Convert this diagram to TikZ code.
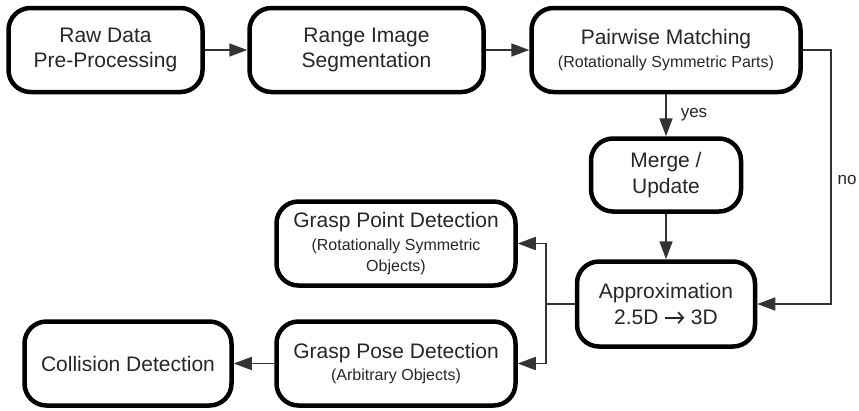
\documentclass[tikz,border=0pt]{standalone}
\usepackage{fontspec}
\setmainfont{Liberation Sans}
\usetikzlibrary{arrows.meta}
\newcommand\subtxt[1]{{\fontsize{16}{20}\selectfont #1}}
\newcommand\myarrow{\tikz[baseline=-7pt]\draw[line width=1.7pt, black!85, -{Straight Barb[length=5pt,width=11pt,line width=1.7pt]}] (0,0) -- (19pt,0);}
\tikzset{
  box/.style={draw=black, line width=4.5pt, rounded corners=22pt, align=center,
    text=black!85, inner sep=0pt, font=\fontsize{21}{25.5}\selectfont},
  conn/.style={draw=black!80, line width=1.7pt, -{Triangle[length=18pt,width=13pt]}},
  lbl/.style={text=black!85, font=\fontsize{17}{20}\selectfont, inner sep=0pt}
}
\begin{document}
\begin{tikzpicture}[x=1pt,y=-1pt]
\useasboundingbox (0,0) rectangle (859,410);
\node[box, minimum width=194pt, minimum height=84pt] (raw) at (105.5,50) {Raw Data\\Pre-Processing};
\node[box, minimum width=234pt, minimum height=84pt] (seg) at (366.5,50) {Range Image\\Segmentation};
\node[box, minimum width=269pt, minimum height=84pt] (pair) at (666,50) {Pairwise Matching\\[-2pt]\subtxt{(Rotationally Symmetric Parts)}};
\node[box, minimum width=150pt, minimum height=73pt] (merge) at (666,175) {Merge /\\Update};
\node[box, minimum width=178pt, minimum height=85pt] (approx) at (666,304) {Approximation\\[1pt]2.5D \myarrow\ 3D};
\node[box, minimum width=239pt, minimum height=84pt] (gpoint) at (396,243.5) {Grasp Point Detection\\[-2pt]\subtxt{(Rotationally Symmetric}\\[-5pt]\subtxt{Objects)}};
\node[box, minimum width=239pt, minimum height=84pt] (gpose) at (396,363.5) {Grasp Pose Detection\\[-3pt]\subtxt{(Arbitrary Objects)}};
\node[box, minimum width=207pt, minimum height=84pt] (coll) at (128,363.5) {Collision Detection};
\coordinate (br) at (546,304);
\draw[conn] (raw.east) -- (seg.west);
\draw[conn] (seg.east) -- (pair.west);
\draw[conn] (pair.east) -- ++(28,0) |- (approx.east);
\draw[conn] (pair.south) -- (merge.north);
\draw[conn] (merge.south) -- (approx.north);
\draw[draw=black!80, line width=1.7pt] (approx.west) -- (br);
\draw[conn] (br) |- (gpoint.east);
\draw[conn] (br) |- (gpose.east);
\draw[conn] (gpose.west) -- (coll.east);
\node[lbl] (yes) at (694,115) {yes};
\node[lbl] (no) at (847,180) {no};
\end{tikzpicture}
\end{document}
